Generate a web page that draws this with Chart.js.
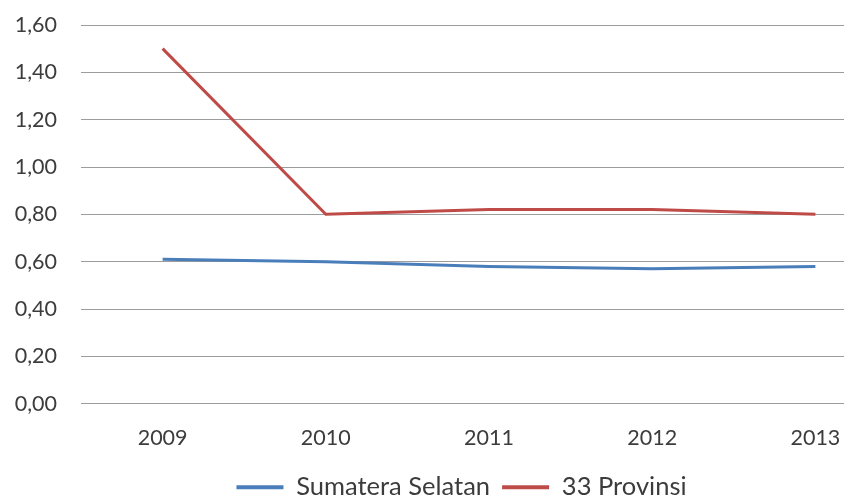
<!DOCTYPE html>
<html>
<head>
<meta charset="utf-8">
<script src="https://cdn.jsdelivr.net/npm/chart.js@4"></script>
<style>
  html, body { margin: 0; padding: 0; background: #fff; }
  #wrap { width: 844px; height: 496px; overflow: hidden; position: relative; }
  #box { width: 900px; height: 496px; position: absolute; left: 0; top: 0; }
</style>
</head>
<body>
<div id="wrap"><div id="box"><canvas id="c"></canvas></div></div>
<script>
const years = ['2009', '2010', '2011', '2012', '2013'];
const sumateraSelatan = [0.61, 0.60, 0.58, 0.57, 0.58];
const provinsi33 = [1.50, 0.80, 0.82, 0.82, 0.80];
const yMin = 0, yMax = 1.6, yStep = 0.2;

const FONT = 'Lato, "Open Sans", sans-serif';
const TEXT = '#3c3c3c';

// nudge the bottom legend so it sits centred under the visible part of the chart
const legendShift = {
  id: 'legendShift',
  afterLayout(chart) {
    const lg = chart.legend;
    if (!lg) return;
    const dx = 13, dy = -9;
    lg.left += dx; lg.right += dx;
    lg.top += dy; lg.bottom += dy;
  }
};

new Chart(document.getElementById('c'), {
  type: 'line',
  data: {
    labels: years,
    datasets: [
      { label: 'Sumatera Selatan', data: sumateraSelatan, borderColor: '#4a7ebb', backgroundColor: '#4a7ebb',
        borderWidth: 3, pointRadius: 0, tension: 0 },
      { label: '33 Provinsi', data: provinsi33, borderColor: '#be4b48', backgroundColor: '#be4b48',
        borderWidth: 3, pointRadius: 0, tension: 0 }
    ]
  },
  plugins: [legendShift],
  options: {
    responsive: true,
    maintainAspectRatio: false,
    animation: false,
    layout: { padding: { left: 0, right: 3, top: 25, bottom: -23 } },
    plugins: {
      tooltip: { enabled: false },
      legend: {
        position: 'bottom',
        labels: {
          font: { family: FONT, size: 25.5 },
          color: TEXT,
          boxWidth: 47,
          boxHeight: 4,
          padding: 12,
          generateLabels(chart) {
            return chart.data.datasets.map((ds, i) => ({
              text: ds.label,
              fillStyle: ds.borderColor,
              strokeStyle: ds.borderColor,
              lineWidth: 0,
              fontColor: TEXT,
              datasetIndex: i,
              hidden: false
            }));
          }
        }
      }
    },
    scales: {
      x: {
        offset: true,
        grid: { display: false, drawTicks: false },
        border: { display: false },
        ticks: { font: { family: FONT, size: 21.5 }, color: TEXT, padding: 21 }
      },
      y: {
        min: yMin, max: yMax,
        afterFit(scale) { scale.width = 81; },
        grid: { color: '#9c9c9c', lineWidth: 1, drawTicks: true, tickLength: 24, tickColor: 'rgba(0,0,0,0)' },
        border: { display: false },
        ticks: {
          stepSize: yStep,
          padding: 0,
          font: { family: FONT, size: 21.5 },
          color: TEXT,
          callback: v => v.toFixed(2).replace('.', ',')
        }
      }
    }
  }
});
</script>
</body>
</html>
